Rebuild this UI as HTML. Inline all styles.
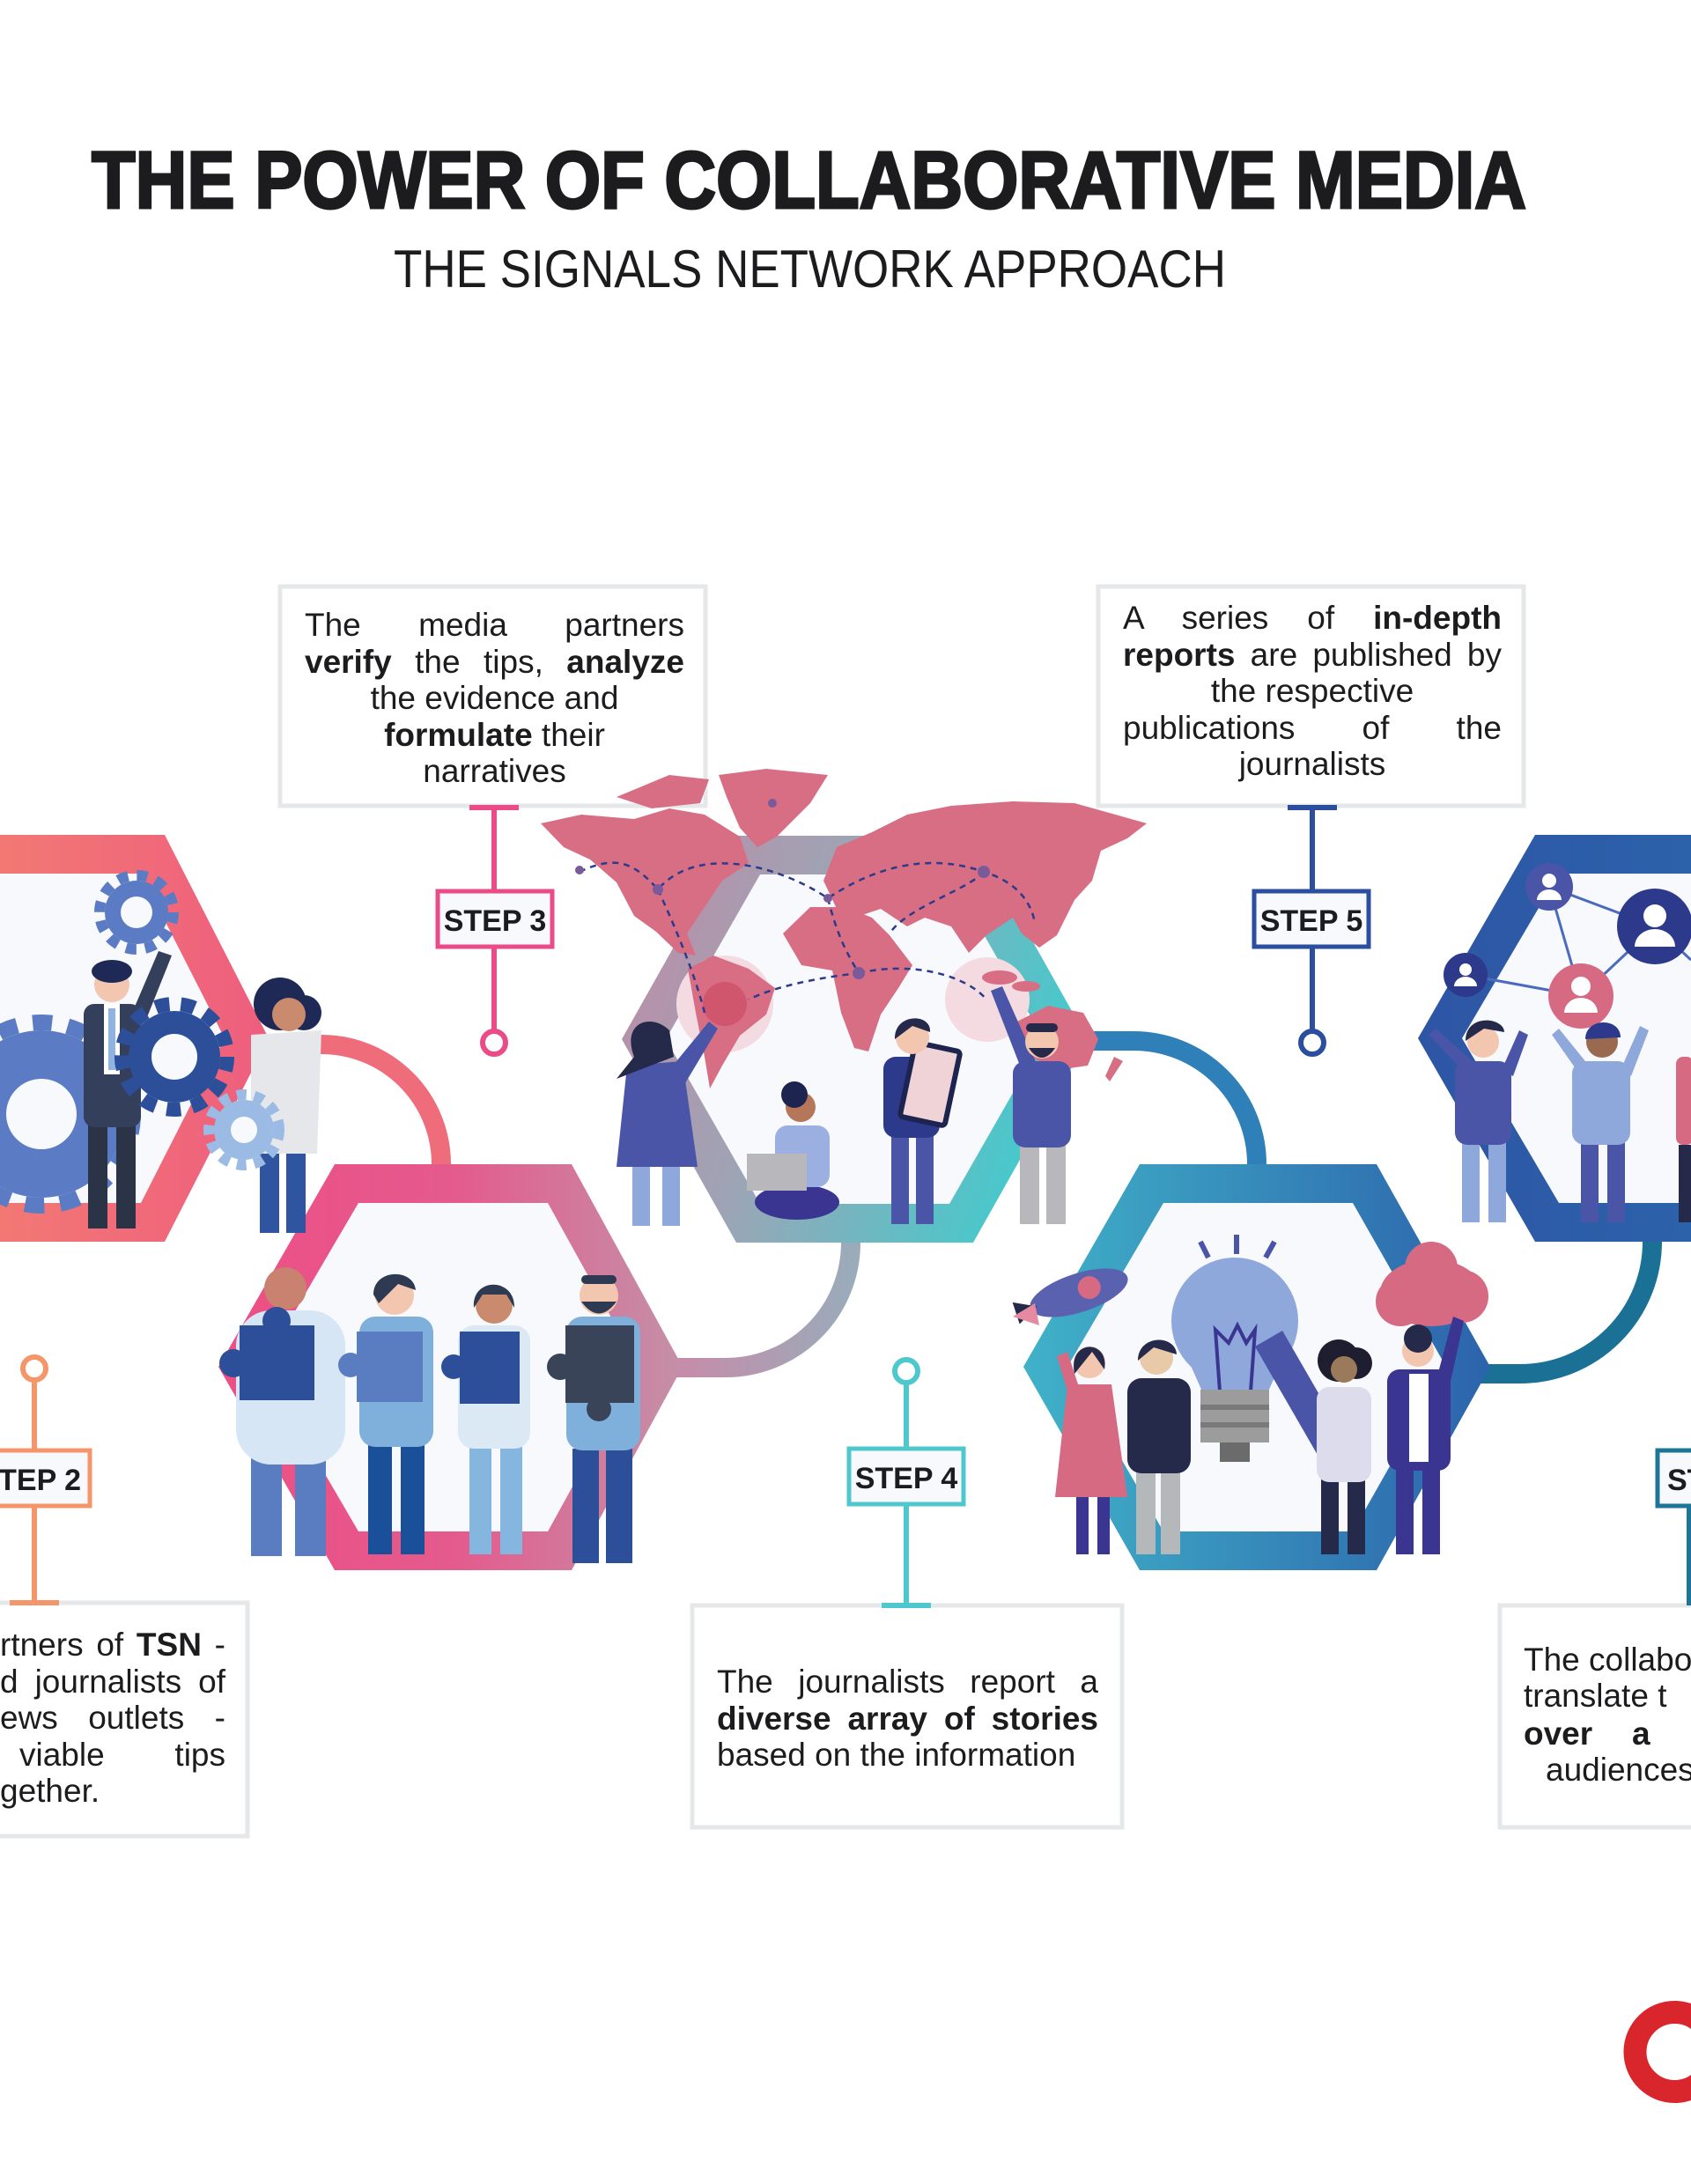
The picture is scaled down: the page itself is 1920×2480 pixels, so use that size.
<!DOCTYPE html>
<html><head><meta charset="utf-8"><style>
html,body{margin:0;padding:0;background:#fff;}
body{position:relative;width:1920px;height:2480px;overflow:hidden;}
svg{display:block;position:absolute;left:0;top:0;}
text{font-family:"Liberation Sans",sans-serif;fill:#1c1c1e;}
.b{font-weight:bold;}
.t{font-size:37px;}
.st{font-size:34px;font-weight:bold;}
.tb{position:absolute;font-family:"Liberation Sans",sans-serif;font-size:37px;line-height:41.5px;color:#1c1c1e;}
.tb div{white-space:nowrap;}
.j{text-align:justify;text-align-last:justify;white-space:normal!important;}
.c{text-align:center;}
.l{text-align:left;}
</style></head><body>
<svg width="1920" height="2480" viewBox="0 0 1920 2480" xmlns="http://www.w3.org/2000/svg">
<defs>
<linearGradient id="g1" x1="0" y1="0" x2="1" y2="0"><stop offset="0" stop-color="#f58a6d"/><stop offset="1" stop-color="#ee5e7e"/></linearGradient>
<linearGradient id="g2" x1="0" y1="0" x2="1" y2="0"><stop offset="0" stop-color="#ee4f85"/><stop offset="0.5" stop-color="#e45a8c"/><stop offset="1" stop-color="#c490a8"/></linearGradient>
<linearGradient id="g3" x1="0" y1="0" x2="1" y2="0.3"><stop offset="0" stop-color="#c08aa5"/><stop offset="0.45" stop-color="#9ea4b5"/><stop offset="1" stop-color="#48c8cb"/></linearGradient>
<linearGradient id="g4" x1="0" y1="0" x2="1" y2="0"><stop offset="0" stop-color="#40b2c8"/><stop offset="1" stop-color="#2c63ac"/></linearGradient>
<linearGradient id="g5" x1="0" y1="0" x2="1" y2="0"><stop offset="0" stop-color="#2e55a5"/><stop offset="1" stop-color="#2a6aad"/></linearGradient>
<linearGradient id="a2" x1="0" y1="0" x2="1" y2="0"><stop offset="0" stop-color="#c98aa8"/><stop offset="1" stop-color="#9aabba"/></linearGradient>
</defs>

<text x="104" y="236" font-size="92" font-weight="bold" textLength="1629" lengthAdjust="spacingAndGlyphs" stroke="#1c1c1e" stroke-width="3">THE POWER OF COLLABORATIVE MEDIA</text>
<text x="447" y="326" font-size="60" textLength="945" lengthAdjust="spacingAndGlyphs">THE SIGNALS NETWORK APPROACH</text>

<path d="M330 1186 L365 1186 A136 136 0 0 1 501 1322" fill="none" stroke="#ef6c7b" stroke-width="22"/>
<path d="M760 1553 L824 1553 A142 142 0 0 0 966 1411" fill="none" stroke="url(#a2)" stroke-width="22"/>
<path d="M1220 1182 L1287 1182 A140 140 0 0 1 1427 1322" fill="none" stroke="#2f80b8" stroke-width="22"/>
<path d="M1680 1560 L1726 1560 A150 150 0 0 0 1876 1410" fill="none" stroke="#1b7096" stroke-width="22"/>

<polygon points="-200,948 187,948 305,1179 187,1410 -200,1410" fill="url(#g1)"/>
<polygon points="-200,992 160,992 255,1179 160,1366 -200,1366" fill="#f8f9fc"/>
<polygon points="248,1552 380,1322 649,1322 775,1552 649,1783 380,1783" fill="url(#g2)"/>
<polygon points="298,1552 407,1366 622,1366 725,1552 622,1739 407,1739" fill="#f8f9fc"/>
<polygon points="706,1180 836,949 1105,949 1235,1180 1105,1411 836,1411" fill="url(#g3)"/>
<polygon points="756,1180 863,993 1078,993 1185,1180 1078,1367 863,1367" fill="#f8f9fc"/>
<polygon points="1162,1552 1294,1322 1563,1322 1692,1552 1563,1783 1294,1783" fill="url(#g4)"/>
<polygon points="1212,1552 1321,1366 1536,1366 1642,1552 1536,1739 1321,1739" fill="#f8f9fc"/>
<polygon points="1610,1179 1743,948 2100,948 2100,1410 1743,1410" fill="url(#g5)"/>
<polygon points="1660,1179 1770,992 2100,992 2100,1366 1770,1366" fill="#f8f9fc"/>

<rect x="318" y="666" width="483" height="249" fill="#fff" stroke="#e6e7e9" stroke-width="5"/>
<rect x="1247" y="666" width="483" height="249" fill="#fff" stroke="#e6e7e9" stroke-width="5"/>
<rect x="-20" y="1820" width="301" height="265" fill="#fff" stroke="#e6e7e9" stroke-width="5"/>
<rect x="786" y="1823" width="488" height="252" fill="#fff" stroke="#e6e7e9" stroke-width="5"/>
<rect x="1703" y="1823" width="260" height="252" fill="#fff" stroke="#e6e7e9" stroke-width="5"/>

<g fill="#d76e84">
<circle cx="823" cy="1140" r="55" fill="#f3dbe1"/>
<circle cx="1121" cy="1135" r="48" fill="#f3dbe1"/>
<path d="M614,935 L660,925 L720,930 L760,918 L800,925 L840,950 L850,980 L820,1000 L800,1030 L780,1060 L790,1085 L770,1082 L745,1058 L720,1040 L700,1002 L670,976 L640,962 Z"/>
<path d="M700,905 L760,880 L805,885 L795,912 L740,918 Z"/>
<path d="M816,880 L870,873 L940,880 L920,912 L882,950 L860,962 L840,940 L825,905 Z"/>
<path d="M781,1100 L810,1085 L850,1100 L880,1122 L870,1152 L840,1176 L820,1210 L806,1236 L800,1200 L790,1150 Z"/>
<path d="M935,1000 L950,962 L990,945 L1030,925 L1080,915 L1150,910 L1220,912 L1302,935 L1280,952 L1250,966 L1240,1000 L1220,1022 L1200,1062 L1180,1076 L1160,1060 L1150,1042 L1120,1062 L1100,1082 L1080,1052 L1050,1042 L1030,1052 L1000,1032 L970,1042 L950,1032 Z"/>
<path d="M889,1060 L920,1030 L960,1030 L990,1042 L1010,1062 L1036,1096 L1020,1122 L1000,1152 L986,1194 L970,1190 L955,1150 L945,1102 L910,1096 Z"/>
<path d="M1155,1160 L1190,1142 L1230,1150 L1247,1180 L1235,1210 L1200,1215 L1170,1200 L1151,1180 Z"/>
<ellipse cx="1135" cy="1110" rx="20" ry="8"/><ellipse cx="1165" cy="1120" rx="16" ry="6"/>
<path d="M1265,1200 L1275,1205 L1260,1228 L1255,1222 Z"/>
<circle cx="823" cy="1140" r="25" fill="#d0566d"/>
</g>
<path d="M658,990 C700,970 720,980 747,1010 C790,960 880,980 940,1020 C1000,980 1060,970 1117,990 C1150,1000 1170,1020 1175,1048 M747,1010 C770,1060 790,1110 800,1150 M940,1020 C950,1060 960,1080 975,1105 C930,1110 880,1120 850,1135 M1117,990 C1100,1010 1030,1030 1010,1060 M975,1105 C1040,1090 1100,1110 1120,1135" fill="none" stroke="#2d3a8c" stroke-width="2.5" stroke-dasharray="7 6"/>
<g fill="#7a5a9a"><circle cx="747" cy="1010" r="6"/><circle cx="940" cy="1020" r="5"/><circle cx="1117" cy="990" r="7"/><circle cx="975" cy="1105" r="7"/><circle cx="658" cy="988" r="5"/><circle cx="877" cy="912" r="5"/></g>

<g>
<circle cx="47" cy="1265" r="95" fill="#5b7cc4"/><circle cx="47" cy="1265" r="104" fill="none" stroke="#5b7cc4" stroke-width="18" stroke-dasharray="22 18"/><circle cx="47" cy="1265" r="40" fill="#f8f9fc"/>
<circle cx="155" cy="1036" r="36" fill="#5b7cc4"/><circle cx="155" cy="1036" r="42" fill="none" stroke="#5b7cc4" stroke-width="12" stroke-dasharray="12 10"/><circle cx="155" cy="1036" r="18" fill="#f8f9fc"/>
<rect x="100" y="1275" width="22" height="120" fill="#2b3346"/><rect x="132" y="1275" width="22" height="120" fill="#2b3346"/>
<rect x="95" y="1140" width="65" height="140" rx="12" fill="#343f5c"/><rect x="118" y="1140" width="18" height="80" fill="#fff"/><rect x="123" y="1145" width="8" height="70" fill="#8fb4e3"/>
<path d="M150,1150 L180,1080 L195,1085 L165,1160 Z" fill="#343f5c"/>
<circle cx="127" cy="1118" r="20" fill="#f3c6b0"/><ellipse cx="127" cy="1103" rx="23" ry="13" fill="#1e2a55"/>
<circle cx="198" cy="1200" r="52" fill="#2d4f9a"/><circle cx="198" cy="1200" r="60" fill="none" stroke="#2d4f9a" stroke-width="16" stroke-dasharray="16 13"/><circle cx="198" cy="1200" r="26" fill="#f8f9fc"/>
<rect x="295" y="1305" width="22" height="95" fill="#2f55a0"/><rect x="325" y="1305" width="22" height="95" fill="#2f55a0"/>
<path d="M285,1175 L365,1170 L360,1310 L285,1310 Z" fill="#e6e7ea"/>
<circle cx="318" cy="1140" r="30" fill="#1e2a55"/><circle cx="345" cy="1150" r="20" fill="#1e2a55"/><circle cx="328" cy="1152" r="19" fill="#c98a6e"/>
<circle cx="277" cy="1283" r="34" fill="#9bbbe5"/><circle cx="277" cy="1283" r="40" fill="none" stroke="#9bbbe5" stroke-width="12" stroke-dasharray="11 9"/><circle cx="277" cy="1283" r="15" fill="#f8f9fc"/>
</g>

<g>
<rect x="285" y="1655" width="35" height="112" fill="#5a7cc0"/><rect x="335" y="1655" width="35" height="112" fill="#5a7cc0"/>
<rect x="268" y="1488" width="124" height="175" rx="40" fill="#d6e6f5"/>
<circle cx="324" cy="1463" r="24" fill="#c98270"/>
<rect x="272" y="1505" width="85" height="85" fill="#2d4f9a"/><circle cx="265" cy="1548" r="16" fill="#2d4f9a"/><circle cx="314" cy="1500" r="16" fill="#2d4f9a"/>
<rect x="418" y="1635" width="27" height="130" fill="#1a4f9a"/><rect x="455" y="1635" width="27" height="130" fill="#1a4f9a"/>
<rect x="408" y="1495" width="84" height="148" rx="18" fill="#7fb0dc"/>
<circle cx="448" cy="1471" r="22" fill="#f3c6b0"/><path d="M424,1470 C424,1440 470,1440 472,1465 L452,1458 L430,1480 Z" fill="#2e3a52"/>
<rect x="405" y="1512" width="75" height="80" fill="#5a7cc0"/><circle cx="398" cy="1550" r="14" fill="#5a7cc0"/>
<rect x="533" y="1640" width="25" height="125" fill="#85b6e0"/><rect x="568" y="1640" width="25" height="125" fill="#85b6e0"/>
<rect x="520" y="1505" width="82" height="140" rx="18" fill="#dbe9f5"/>
<circle cx="561" cy="1482" r="21" fill="#c98a6e"/><path d="M538,1485 C535,1450 585,1450 584,1485 L575,1470 L548,1470 Z" fill="#2e3a52"/>
<rect x="522" y="1512" width="68" height="82" fill="#2d4f9a"/><circle cx="515" cy="1552" r="14" fill="#2d4f9a"/>
<rect x="650" y="1645" width="30" height="130" fill="#2d4f9a"/><rect x="688" y="1645" width="30" height="130" fill="#2d4f9a"/>
<rect x="643" y="1495" width="84" height="152" rx="18" fill="#7fb0dc"/>
<circle cx="680" cy="1471" r="22" fill="#f3c6b0"/><path d="M660,1478 Q680,1505 700,1478 Z" fill="#2e3a52"/><rect x="660" y="1448" width="40" height="10" rx="5" fill="#2e3a52"/>
<rect x="642" y="1505" width="78" height="88" fill="#3a4458"/><circle cx="636" cy="1552" r="15" fill="#3a4458"/><circle cx="680" cy="1600" r="14" fill="#3a4458"/>
</g>

<g>
<rect x="718" y="1315" width="20" height="77" fill="#8fa8dc"/><rect x="752" y="1315" width="20" height="77" fill="#8fa8dc"/>
<path d="M712,1210 L775,1205 L792,1325 L700,1325 Z" fill="#4a55a8"/>
<path d="M760,1215 L805,1160 L815,1168 L775,1235 Z" fill="#4a55a8"/>
<path d="M720,1200 C705,1160 740,1150 760,1170 L765,1200 L700,1225 Z" fill="#262a4a"/>
<circle cx="743" cy="1183" r="18" fill="#262a4a"/>
<ellipse cx="905" cy="1365" rx="48" ry="20" fill="#3a3590"/>
<rect x="880" y="1278" width="62" height="70" rx="14" fill="#9bb0e0"/>
<rect x="848" y="1310" width="68" height="42" fill="#b8b8bc"/>
<circle cx="909" cy="1257" r="17" fill="#b5765a"/><circle cx="902" cy="1243" r="15" fill="#1e2450"/>
<rect x="1012" y="1285" width="20" height="105" fill="#4a55a8"/><rect x="1040" y="1285" width="20" height="105" fill="#4a55a8"/>
<rect x="1003" y="1200" width="64" height="92" rx="14" fill="#2d3a8c"/>
<rect x="1030" y="1188" width="52" height="86" rx="4" fill="#f0d3d6" stroke="#1e2450" stroke-width="6" transform="rotate(12 1056 1231)"/>
<circle cx="1036" cy="1178" r="19" fill="#f3c6b0"/><path d="M1016,1180 C1015,1150 1058,1150 1056,1172 L1036,1165 Z" fill="#262a4a"/>
<rect x="1158" y="1295" width="22" height="95" fill="#b8b8bc"/><rect x="1188" y="1295" width="22" height="95" fill="#b8b8bc"/>
<rect x="1150" y="1205" width="66" height="98" rx="14" fill="#4a55a8"/>
<path d="M1160,1215 L1125,1125 L1138,1120 L1178,1210 Z" fill="#4a55a8"/>
<circle cx="1183" cy="1183" r="19" fill="#f3c6b0"/><path d="M1168,1190 Q1183,1212 1198,1190 Z" fill="#262a4a"/><rect x="1165" y="1162" width="36" height="10" rx="5" fill="#262a4a"/>
</g>

<g>
<g transform="rotate(-18 1225 1468)"><ellipse cx="1225" cy="1468" rx="58" ry="22" fill="#5a62b0"/><circle cx="1238" cy="1466" r="13" fill="#d66a82"/><path d="M1175,1468 L1150,1455 L1150,1481 Z" fill="#262a4a"/></g>
<path d="M1150,1495 L1175,1480 L1180,1505 Z" fill="#e58aa0"/>
<line x1="1363" y1="1410" x2="1372" y2="1428" stroke="#4a55a8" stroke-width="6"/><line x1="1404" y1="1402" x2="1404" y2="1424" stroke="#4a55a8" stroke-width="6"/><line x1="1447" y1="1410" x2="1437" y2="1428" stroke="#4a55a8" stroke-width="6"/>
<circle cx="1402" cy="1500" r="72" fill="#8fa8dc"/><path d="M1345,1535 L1460,1535 L1440,1580 L1365,1580 Z" fill="#8fa8dc"/>
<polyline points="1385,1580 1380,1510 1395,1525 1405,1505 1415,1525 1425,1510 1420,1580" fill="none" stroke="#3a3590" stroke-width="4"/>
<rect x="1363" y="1578" width="78" height="60" fill="#9c9c9c"/><rect x="1363" y="1595" width="78" height="6" fill="#7a7a7a"/><rect x="1363" y="1615" width="78" height="6" fill="#7a7a7a"/><rect x="1385" y="1638" width="34" height="22" fill="#6b6b6b"/>
<rect x="1460" y="1510" width="36" height="150" fill="#4a55a8" transform="rotate(-30 1478 1585)"/>
<g fill="#d66a82"><ellipse cx="1625" cy="1468" rx="58" ry="38"/><circle cx="1590" cy="1478" r="28"/><circle cx="1660" cy="1472" r="30"/><circle cx="1625" cy="1440" r="30"/></g>
<rect x="1222" y="1695" width="14" height="70" fill="#3a3590"/><rect x="1246" y="1695" width="14" height="70" fill="#3a3590"/>
<path d="M1212,1572 L1262,1572 L1280,1700 L1198,1700 Z" fill="#d66a82"/><path d="M1212,1580 L1200,1540 L1212,1535 L1225,1575 Z" fill="#d66a82"/>
<circle cx="1237" cy="1547" r="18" fill="#f3c6b0"/><path d="M1220,1560 C1212,1520 1260,1520 1254,1555 L1240,1535 Z" fill="#262a4a"/>
<rect x="1290" y="1665" width="22" height="100" fill="#b5b8ba"/><rect x="1318" y="1665" width="22" height="100" fill="#b5b8ba"/>
<rect x="1280" y="1565" width="72" height="108" rx="16" fill="#262a4a"/>
<circle cx="1313" cy="1542" r="19" fill="#e8c9a8"/><path d="M1292,1545 C1292,1515 1335,1515 1336,1538 L1310,1530 Z" fill="#262a4a"/>
<rect x="1500" y="1675" width="20" height="90" fill="#262a4a"/><rect x="1530" y="1675" width="20" height="90" fill="#262a4a"/>
<rect x="1495" y="1575" width="62" height="108" rx="14" fill="#dcdcec"/>
<circle cx="1520" cy="1545" r="24" fill="#1e1e30"/><circle cx="1540" cy="1548" r="18" fill="#1e1e30"/><circle cx="1526" cy="1555" r="15" fill="#9a7a5a"/>
<rect x="1585" y="1665" width="20" height="100" fill="#3a3590"/><rect x="1615" y="1665" width="20" height="100" fill="#3a3590"/>
<rect x="1575" y="1555" width="72" height="115" rx="14" fill="#3a3590"/><rect x="1600" y="1560" width="22" height="100" fill="#fff"/>
<path d="M1630,1570 L1650,1495 L1662,1500 L1645,1578 Z" fill="#3a3590"/>
<circle cx="1610" cy="1534" r="18" fill="#f3c6b0"/><circle cx="1610" cy="1520" r="16" fill="#262a4a"/>
</g>

<g>
<g stroke="#4a6ac0" stroke-width="3"><line x1="1759" y1="1007" x2="1879" y2="1052"/><line x1="1759" y1="1007" x2="1795" y2="1131"/><line x1="1664" y1="1107" x2="1795" y2="1131"/><line x1="1795" y1="1131" x2="1879" y2="1052"/><line x1="1879" y1="1052" x2="1920" y2="1090"/></g>
<circle cx="1759" cy="1007" r="27" fill="#4a55a8"/><circle cx="1759" cy="1000" r="8" fill="#fff"/><path d="M1745,1022 A14 12 0 0 1 1773,1022 Z" fill="#fff"/>
<circle cx="1879" cy="1052" r="43" fill="#2d3a8c"/><circle cx="1879" cy="1040" r="13" fill="#fff"/><path d="M1856,1075 A23 20 0 0 1 1902,1075 Z" fill="#fff"/>
<circle cx="1795" cy="1131" r="37" fill="#d66a82"/><circle cx="1795" cy="1120" r="11" fill="#fff"/><path d="M1776,1150 A19 17 0 0 1 1814,1150 Z" fill="#fff"/>
<circle cx="1664" cy="1107" r="25" fill="#2d3a8c"/><circle cx="1664" cy="1101" r="7" fill="#fff"/><path d="M1651,1120 A13 11 0 0 1 1677,1120 Z" fill="#fff"/>
<rect x="1660" y="1295" width="20" height="93" fill="#8fa8dc"/><rect x="1690" y="1295" width="20" height="93" fill="#8fa8dc"/>
<rect x="1652" y="1205" width="64" height="95" rx="14" fill="#4a55a8"/>
<path d="M1660,1215 L1622,1175 L1630,1168 L1672,1205 Z" fill="#4a55a8"/><path d="M1705,1215 L1725,1170 L1735,1175 L1718,1222 Z" fill="#4a55a8"/>
<circle cx="1684" cy="1183" r="18" fill="#f3c6b0"/><path d="M1664,1182 C1664,1150 1708,1155 1708,1172 L1685,1168 Z" fill="#262a4a"/>
<rect x="1795" y="1295" width="20" height="93" fill="#4a55a8"/><rect x="1825" y="1295" width="20" height="93" fill="#4a55a8"/>
<rect x="1785" y="1205" width="66" height="95" rx="14" fill="#8fa8dc"/>
<path d="M1790,1215 L1762,1175 L1770,1168 L1800,1205 Z" fill="#8fa8dc"/><path d="M1840,1215 L1862,1165 L1872,1170 L1852,1222 Z" fill="#8fa8dc"/>
<circle cx="1819" cy="1183" r="18" fill="#9a6a50"/><path d="M1800,1180 C1800,1155 1840,1155 1840,1178 Z" fill="#2d3a8c"/>
<rect x="1903" y="1200" width="20" height="100" rx="8" fill="#d66a82"/><rect x="1906" y="1300" width="14" height="88" fill="#262a4a"/>
</g>

<g stroke-width="6" fill="none">
<line x1="561" y1="917" x2="561" y2="1170" stroke="#ea4c89"/><circle cx="561" cy="1184" r="13" stroke="#ea4c89" fill="#fff"/><line x1="533" y1="917" x2="589" y2="917" stroke="#ea4c89"/>
<line x1="1490" y1="917" x2="1490" y2="1170" stroke="#2c4e9e"/><circle cx="1490" cy="1184" r="13" stroke="#2c4e9e" fill="#fff"/><line x1="1462" y1="917" x2="1518" y2="917" stroke="#2c4e9e"/>
<line x1="39" y1="1568" x2="39" y2="1820" stroke="#f4956a"/><circle cx="39" cy="1554" r="13" stroke="#f4956a" fill="#fff"/><line x1="11" y1="1820" x2="67" y2="1820" stroke="#f4956a"/>
<line x1="1029" y1="1571" x2="1029" y2="1823" stroke="#4fc8cd"/><circle cx="1029" cy="1557" r="13" stroke="#4fc8cd" fill="#fff"/><line x1="1001" y1="1823" x2="1057" y2="1823" stroke="#4fc8cd"/>
<line x1="1918" y1="1711" x2="1918" y2="1823" stroke="#1d7597"/>
</g>
<rect x="497" y="1012" width="130" height="63" fill="#f8f9fc" stroke="#ea4c89" stroke-width="5"/>
<text x="562" y="1057" class="st" text-anchor="middle">STEP 3</text>
<rect x="1424" y="1012" width="130" height="63" fill="#f8f9fc" stroke="#2c4e9e" stroke-width="5"/>
<text x="1489" y="1057" class="st" text-anchor="middle">STEP 5</text>
<rect x="-30" y="1647" width="132" height="63" fill="#f8f9fc" stroke="#f4956a" stroke-width="5"/>
<text x="92" y="1692" class="st" text-anchor="end">STEP 2</text>
<rect x="964" y="1645" width="130" height="63" fill="#f8f9fc" stroke="#4fc8cd" stroke-width="5"/>
<text x="1029" y="1690" class="st" text-anchor="middle">STEP 4</text>
<rect x="1882" y="1647" width="100" height="63" fill="#f8f9fc" stroke="#1d7597" stroke-width="5"/>
<text x="1893" y="1692" class="st">STEP 6</text>

<text x="1730" y="1897" class="t">The collabo</text>
<text x="1730" y="1938" class="t">translate t</text>
<text x="1730" y="1981" class="t b">over</text><text x="1853" y="1981" class="t b">a</text>
<text x="1755" y="2022" class="t">audiences</text>

<path d="M1935,2300 A45 45 0 1 0 1935,2360" fill="none" stroke="#d9262c" stroke-width="26"/>
</svg>

<div class="tb" style="left:346px;top:689px;width:431px;">
<div class="j">The media partners</div>
<div class="j"><b>verify</b> the tips, <b>analyze</b></div>
<div class="c">the evidence and</div>
<div class="c"><b>formulate</b> their</div>
<div class="c">narratives</div>
</div>
<div class="tb" style="left:1275px;top:681px;width:430px;">
<div class="j">A series of <b>in-depth</b></div>
<div class="j"><b>reports</b> are published by</div>
<div class="c">the respective</div>
<div class="j">publications of the</div>
<div class="c">journalists</div>
</div>
<div class="tb" style="left:814px;top:1889px;width:433px;">
<div class="j">The journalists report a</div>
<div class="j"><b>diverse array of stories</b></div>
<div class="l">based on the information</div>
</div>
<div class="tb" style="left:0px;top:1847px;width:256px;">
<div class="j">rtners of <b>TSN</b> -</div>
<div class="j">d journalists of</div>
<div class="j">ews outlets -</div>
<div class="j" style="padding-left:22px;">viable tips</div>
<div class="l">gether.</div>
</div>
</body></html>
